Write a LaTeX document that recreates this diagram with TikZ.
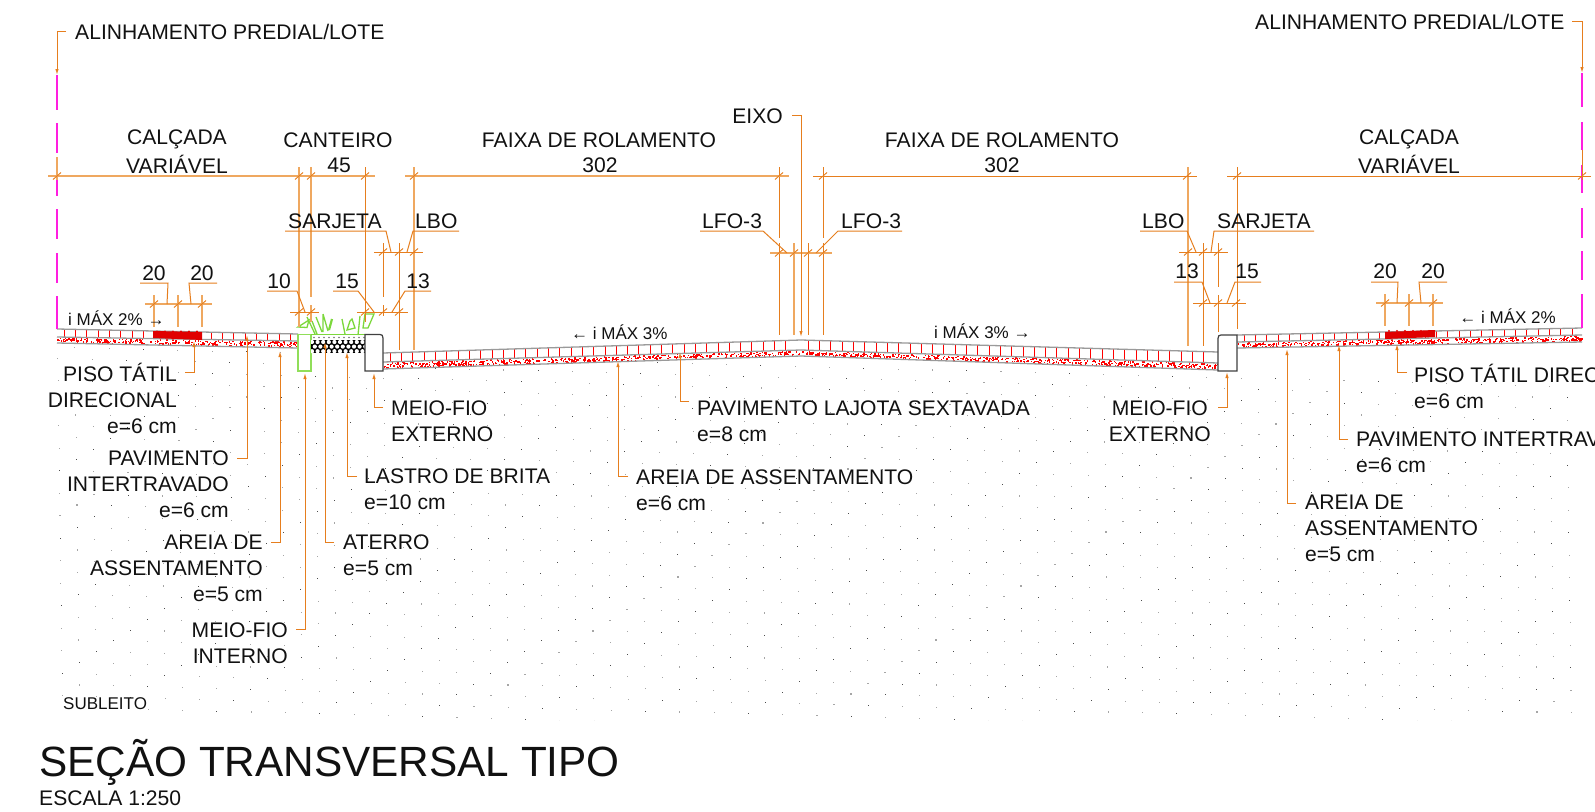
\documentclass[tikz,border=0pt]{standalone}
\usepackage{fontspec}
\setmainfont{Liberation Sans}
\usetikzlibrary{arrows.meta}
\definecolor{ink}{HTML}{111111}
\definecolor{orgD}{HTML}{E67E1E}
\definecolor{orgL}{HTML}{EFA860}
\definecolor{layerg}{HTML}{9A9A9A}
\definecolor{tred}{HTML}{E00000}
\definecolor{grass}{HTML}{7CD83C}
\definecolor{mag}{HTML}{FF1EE0}
\tikzset{
  lab/.style={inner sep=0pt,text=ink,font=\fontsize{21.1}{25.6}\selectfont},
  small/.style={inner sep=0pt,text=ink,font=\fontsize{17}{19}\selectfont},
  leadln/.style={draw=orgD,line width=1pt,-{Latex[length=6pt,width=3.4pt]}},
  underl/.style={draw=orgD,line width=1pt},
  dimL/.style={draw=orgL,line width=1.6pt},
  dimD/.style={draw=orgD,line width=0.9pt},
  extL/.style={draw=orgL,line width=1.3pt},
  extD/.style={draw=orgD,line width=1pt},
  ticksl/.style={draw=orgD,line width=0.9pt},
  layerln/.style={draw=layerg,line width=1.3pt},
  magln/.style={draw=mag,line width=1.5pt},
  grassln/.style={draw=grass,line width=1.3pt},
}
\newcommand{\polyl}[5][leadln]{%
  \coordinate (#2a) at (#3);\coordinate (#2b) at (#4);\coordinate (#2c) at (#5);
  \draw[#1] (#2a)--(#2b)--(#2c);}
\newcommand{\dimrow}[5]{% style,y,x0,x1,ticks
  \draw[#1] (#3,#2)--(#4,#2);
  \foreach \tx in {#5}{\draw[ticksl] (\tx-4,#2+3.5)--(\tx+4,#2-3.5);}}
\newcommand{\pave}[8]{% x0,t0,m0,b0,x1,t1,m1,b1
  \pgfmathsetmacro\nt{int((#5-#1)/11.3)}
  \foreach \i in {1,...,\nt}{%
    \pgfmathsetmacro\xx{#1+\i*11.3-4}
    \pgfmathsetmacro\ss{(\xx-#1)/(#5-#1)}
    \pgfmathsetmacro\ya{#2+\ss*(#6-#2)}
    \pgfmathsetmacro\yb{#3+\ss*(#7-#3)}
    \draw[red,line width=1pt] (\xx,\ya)--(\xx,\yb);}
  \pgfmathsetmacro\ns{int((#5-#1)*1.2)}
  \foreach \i in {1,...,\ns}{%
    \pgfmathsetmacro\uu{rnd}
    \pgfmathsetmacro\vv{rnd}
    \pgfmathsetmacro\ya{#3+\uu*(#7-#3)+0.5}
    \pgfmathsetmacro\yb{#4+\uu*(#8-#4)-1.5}
    \pgfmathsetmacro\xx{#1+\uu*(#5-#1)}
    \pgfmathsetmacro\yy{\ya+\vv*(\yb-\ya)}
    \fill[red] (\xx,\yy) rectangle +(1.4,1.4);}
  \draw[layerln] (#1,#2)--(#5,#6);
  \draw[layerln] (#1,#3)--(#5,#7);
  \draw[layerln] (#1,#4)--(#5,#8);}
\begin{document}
\begin{tikzpicture}[x=1pt,y=-1pt]
\useasboundingbox (0,0) rectangle (1595,811);
\fill[white] (0,0) rectangle (1595,811);
\pgfmathsetseed{4242}
% subgrade dots
\begin{scope}
\clip (57,343)--(298,348)--(298,372)--(383,372)--(383,369)--(801,356)--(1218,370)--(1218,372)--(1237,372)--(1237,348)--(1582,342)--(1582,720)--(57,720)--cycle;
\foreach \r in {0,...,32}{%
  \foreach \c in {-20,...,46}{%
    \pgfmathsetmacro\dx{40+\c*34.3+\r*17.3}
    \pgfmathsetmacro\dy{346+\r*11.7+\c*0.9}
    \pgfmathtruncatemacro\sh{mod(\r+\c+30,3)}
    \ifnum\sh=0 \fill[black!70] (\dx,\dy) rectangle +(1,1);
    \else \fill[black!35] (\dx,\dy) rectangle +(1.1,1.1);\fi
  }}
\end{scope}
% pavements
\pave{57}{329}{337}{343}{298}{334}{341}{348}
\pave{383}{353}{362}{369}{801}{340}{350}{356}
\pave{801}{340}{350}{356}{1218}{352}{363}{370}
\pave{1237}{335}{342}{348}{1582}{328}{335}{342}
% tactile
\fill[tred] (153,331)--(202,332)--(202,340)--(153,338)--cycle;
\fill[tred] (1385,332)--(1435,330)--(1435,337)--(1385,339)--cycle;
\foreach \x in {157,165,...,199}{\fill[tred] (\x,331.5) circle (1.2);}
\foreach \x in {1389,1397,...,1432}{\fill[tred] (\x,331) circle (1.2);}
% curbs and planter
\filldraw[fill=white,draw=grass!85,line width=1.1pt] (298,371)--(298,334.5)--(311,334.5)--(311,371)--cycle;
\fill[black] (311,340) rectangle (365,353);
\begin{scope}
\clip (311,340) rectangle (365,353);
\foreach \r in {0,1,2}{\foreach \c in {0,...,11}{%
  \pgfmathsetmacro\cx{312+\c*5.6+mod(\r,2)*2.8}
  \pgfmathsetmacro\cy{342+\r*4.6}
  \fill[white] (\cx,\cy) circle (2.1);}}
\end{scope}
\foreach \c in {0,...,10}{\fill[black!55] (314+\c*5,337.5) circle (0.9);}
\draw[grass,line width=1.2pt] (311,334.5)--(365,334.5);
\filldraw[fill=white,draw=black!75,line width=1.2pt] (365,371)--(365,334.5)--(380,334.5) .. controls (382,334.5) and (383,335.5) .. (383,338)--(383,371)--cycle;
\filldraw[fill=white,draw=black!75,line width=1.2pt] (1237,371)--(1237,335)--(1221,335) .. controls (1219,335) and (1218,336) .. (1218,338.5)--(1218,371)--cycle;
% grass
\draw[grassln] (298,327)--(309,320)--(307,327.5)--cycle;
\draw[grassln] (307,317)--(315,334) (312,321)--(317,334) (316,317)--(322,332) (323,314)--(323,332) (323,314)--(328,331);
\draw[grass,line width=2.2pt] (332,319)--(329,330);
\draw[grassln] (342,319)--(345,334);
\draw[grassln] (350,321)--(347,330)--(355,328)--(352,319)--cycle;
\draw[grassln] (360,316)--(358,335);
\draw[grassln] (365,314)--(374,314)--(368,328)--(363,328)--cycle;
% alignment lines
\foreach \a/\b in {75/110,123/153,167/196,209/239,253/283,296/329}{\draw[magln] (57,\a)--(57,\b);}
\foreach \a/\b in {73/107,122/150,165/193,208/238,251/280,294/328}{\draw[magln] (1582,\a)--(1582,\b);}
% extension lines, left
\draw[extL] (57,157)--(57,180);
\draw[extL] (299,167)--(299,327);
\draw[extL] (311,167)--(311,297) (311,305)--(311,322);
\draw[extD] (365,167)--(365,322);
\draw[extD] (383,243)--(383,297) (383,305)--(383,316);
\draw[extD] (399,243)--(399,350);
\draw[extL] (414,167)--(414,350);
\foreach \x in {154,178,202}{\draw[extL] (\x,295)--(\x,327);}
% extension lines, centre
\draw[extD] (779,167)--(779,238) (779,243)--(779,335);
\draw[extL] (794,243)--(794,335);
\draw[extD] (808,243)--(808,335);
\draw[extD] (823,167)--(823,238) (823,243)--(823,335);
% extension lines, right
\draw[extL] (1188,167)--(1188,346);
\draw[extD] (1203,243)--(1203,346);
\draw[extD] (1218,243)--(1218,287) (1218,295)--(1218,332);
\draw[extD] (1237,167)--(1237,329);
\draw[extD] (1582,150)--(1582,180);
\foreach \x in {1385,1409,1433}{\draw[extL] (\x,294)--(\x,326);}
% dimension rows
\dimrow{dimL}{176}{48}{375}{57,299,311,365}
\dimrow{dimL}{176}{405}{789}{414,779}
\dimrow{dimD}{176}{813}{1197}{823,1187}
\dimrow{dimD}{176}{1227}{1591}{1237,1582}
\dimrow{dimD}{252}{374}{423}{383,399,414}
\dimrow{dimD}{312}{357}{408}{365,383,399}
\dimrow{dimD}{312}{290}{319}{299,311}
\dimrow{dimL}{304}{145}{212}{154,178,202}
\dimrow{dimL}{253}{770}{832}{779,794,808,823}
\dimrow{dimD}{252}{1179}{1228}{1188,1203,1218}
\dimrow{dimD}{303}{1193}{1246}{1203,1218,1236}
\dimrow{dimL}{303}{1376}{1443}{1385,1409,1433}
% texts
\node[lab,anchor=base west] (alL) at (75,39) {ALINHAMENTO PREDIAL/LOTE};
\node[lab,anchor=base west] (alR) at (1255,29) {ALINHAMENTO PREDIAL/LOTE};
\node[lab,anchor=base,align=center] (calL) at (177,173) {CALÇADA\\[3.4pt]VARIÁVEL};
\node[lab,anchor=base,align=center] (calR) at (1409,173) {CALÇADA\\[3.4pt]VARIÁVEL};
\node[lab,anchor=base] (cant) at (338,147) {CANTEIRO};
\node[lab,anchor=base] (d45) at (339,172) {45};
\node[lab,anchor=base] (fx1) at (599,147) {FAIXA DE ROLAMENTO};
\node[lab,anchor=base] (n1) at (600,172) {302};
\node[lab,anchor=base] (fx2) at (1002,147) {FAIXA DE ROLAMENTO};
\node[lab,anchor=base] (n2) at (1002,172) {302};
\node[lab,anchor=base east] (eixo) at (783,123) {EIXO};
\node[lab,anchor=base west] (sarL) at (288,228) {SARJETA};
\node[lab,anchor=base west] (lboL) at (415,228) {LBO};
\node[lab,anchor=base west] (lfoL) at (702,228) {LFO-3};
\node[lab,anchor=base west] (lfoR) at (841,228) {LFO-3};
\node[lab,anchor=base west] (lboR) at (1142,228) {LBO};
\node[lab,anchor=base west] (sarR) at (1217,228) {SARJETA};
\node[lab,anchor=base] (a20) at (154,280) {20};
\node[lab,anchor=base] (b20) at (202,280) {20};
\node[lab,anchor=base] (d10) at (279,288) {10};
\node[lab,anchor=base] (d15) at (347,288) {15};
\node[lab,anchor=base] (d13) at (418,288) {13};
\node[lab,anchor=base] (r13) at (1187,278) {13};
\node[lab,anchor=base] (r15) at (1247,278) {15};
\node[lab,anchor=base] (c20) at (1385,278) {20};
\node[lab,anchor=base] (e20) at (1433,278) {20};
\node[small,anchor=base west] (sl1) at (68,325) {i MÁX 2\% →};
\node[small,anchor=base east] (sl2) at (1556,323) {← i MÁX 2\%};
\node[small,anchor=base west] (sl3) at (571,339) {← i MÁX 3\%};
\node[small,anchor=base west] (sl4) at (934,338) {i MÁX 3\% →};
\node[lab,anchor=base east,align=right] (t1) at (177,433) {PISO TÁTIL\\DIRECIONAL\\e=6 cm};
\node[lab,anchor=base east,align=right] (t2) at (229,517) {PAVIMENTO\\INTERTRAVADO\\e=6 cm};
\node[lab,anchor=base east,align=right] (t3) at (263,601) {AREIA DE\\ASSENTAMENTO\\e=5 cm};
\node[lab,anchor=base east,align=right] (t4) at (288,663) {MEIO-FIO\\INTERNO};
\node[lab,anchor=base west,align=left] (t5) at (343,575) {ATERRO\\e=5 cm};
\node[lab,anchor=base west,align=left] (t6) at (364,509) {LASTRO DE BRITA\\e=10 cm};
\node[lab,anchor=base west,align=left] (t7) at (391,441) {MEIO-FIO\\EXTERNO};
\node[lab,anchor=base west,align=left] (t8) at (697,441) {PAVIMENTO LAJOTA SEXTAVADA\\e=8 cm};
\node[lab,anchor=base west,align=left] (t9) at (636,510) {AREIA DE ASSENTAMENTO\\e=6 cm};
\node[lab,anchor=base east,align=center] (t10) at (1211,441) {MEIO-FIO\\EXTERNO};
\node[lab,anchor=base west,align=left] (t11) at (1414,408) {PISO TÁTIL DIRECIONAL\\e=6 cm};
\node[lab,anchor=base west,align=left] (t12) at (1356,472) {PAVIMENTO INTERTRAVADO\\e=6 cm};
\node[lab,anchor=base west,align=left] (t13) at (1305,561) {AREIA DE\\ASSENTAMENTO\\e=5 cm};
\node[small,anchor=base west] (subl) at (63,709) {SUBLEITO};
\node[inner sep=0pt,text=ink,font=\fontsize{42.3}{46}\selectfont,anchor=base west] (title) at (39,776) {SEÇÃO TRANSVERSAL TIPO};
\node[lab,anchor=base west] (esc) at (39,805) {ESCALA 1:250};
% leaders with arrows
\polyl{p1}{66,31}{57,31}{57,75}
\polyl{p2}{1572,21}{1582,21}{1582,73}
\polyl{p3}{792,115}{801,115}{801,337}
\polyl{p4}{185,372}{194,372}{194,341}
\polyl{p5}{237,458}{247,458}{247,335}
\polyl{p6}{271,542}{280,542}{280,351}
\polyl{p7}{296,629}{305,629}{305,373}
\polyl{p8}{334,542}{325,542}{325,342}
\polyl{p9}{357,476}{347,476}{347,352}
\polyl{p10}{383,407}{374,407}{374,373}
\polyl{p11}{689,401}{680,401}{680,352}
\polyl{p12}{628,476}{618,476}{618,361}
\polyl{p13}{1218,407}{1227,407}{1227,372}
\polyl{p14}{1407,372}{1397,372}{1397,344}
\polyl{p15}{1348,439}{1339,439}{1339,345}
\polyl{p16}{1296,503}{1287,503}{1287,349}
% underlines with slanted leaders
\polyl[underl]{u1}{140,283}{168,283}{167,304}
\polyl[underl]{u2}{217,283}{189,283}{191,304}
\polyl[underl]{u3}{267,291}{297,291}{305,312}
\polyl[underl]{u4}{333,291}{358,291}{374,312}
\polyl[underl]{u5}{431,291}{405,291}{392,312}
\polyl[underl]{u6}{285,231}{386,231}{391,252}
\polyl[underl]{u7}{459,231}{413,231}{407,252}
\polyl[underl]{u8}{700,231}{763,231}{787,253}
\polyl[underl]{u9}{902,231}{838,231}{816,253}
\polyl[underl]{u10}{1140,231}{1187,231}{1196,252}
\polyl[underl]{u11}{1314,231}{1214,231}{1211,252}
\polyl[underl]{u12}{1174,282}{1202,282}{1210,303}
\polyl[underl]{u13}{1261,282}{1235,282}{1227,303}
\polyl[underl]{u14}{1371,282}{1398,282}{1397,303}
\polyl[underl]{u15}{1447,282}{1419,282}{1421,303}
\end{tikzpicture}
\end{document}
